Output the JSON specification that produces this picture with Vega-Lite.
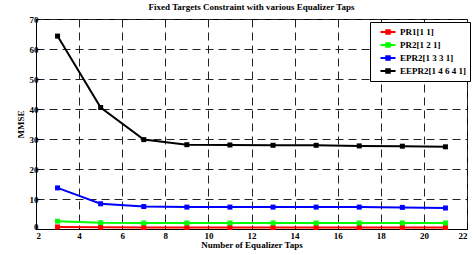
{
  "$schema": "https://vega.github.io/schema/vega-lite/v6.json",
  "width": 431,
  "height": 210,
  "autosize": {"type": "none"},
  "padding": {"left": 36, "top": 19, "right": 6, "bottom": 26},
  "title": {"text": "Fixed Targets Constraint with various Equalizer Taps", "font": "Liberation Serif", "fontSize": 9, "fontWeight": "bold", "color": "#000", "offset": 3},
  "config": {
    "view": {"stroke": "#000", "strokeWidth": 1},
    "axis": {"labelFont": "Liberation Serif", "titleFont": "Liberation Serif", "labelFontWeight": "bold", "titleFontWeight": "bold", "labelFontSize": 9, "titleFontSize": 9, "labelColor": "#000", "titleColor": "#000", "domainColor": "#000", "tickColor": "#000", "tickSize": -4, "gridColor": "#222", "gridDash": [8, 5], "gridOpacity": 1, "gridWidth": 1},
    "legend": {"labelFont": "Liberation Serif", "labelFontWeight": "bold", "labelFontSize": 9, "labelColor": "#000"}
  },
  "data": {"values": [
    {"taps": 3, "s": "PR1[1 1]", "v": 0.7}, {"taps": 5, "s": "PR1[1 1]", "v": 0.6}, {"taps": 7, "s": "PR1[1 1]", "v": 0.5}, {"taps": 9, "s": "PR1[1 1]", "v": 0.5}, {"taps": 11, "s": "PR1[1 1]", "v": 0.5}, {"taps": 13, "s": "PR1[1 1]", "v": 0.5}, {"taps": 15, "s": "PR1[1 1]", "v": 0.5}, {"taps": 17, "s": "PR1[1 1]", "v": 0.5}, {"taps": 19, "s": "PR1[1 1]", "v": 0.5}, {"taps": 21, "s": "PR1[1 1]", "v": 0.5},
    {"taps": 3, "s": "PR2[1 2 1]", "v": 2.6}, {"taps": 5, "s": "PR2[1 2 1]", "v": 2.1}, {"taps": 7, "s": "PR2[1 2 1]", "v": 2.0}, {"taps": 9, "s": "PR2[1 2 1]", "v": 2.0}, {"taps": 11, "s": "PR2[1 2 1]", "v": 2.0}, {"taps": 13, "s": "PR2[1 2 1]", "v": 2.0}, {"taps": 15, "s": "PR2[1 2 1]", "v": 2.0}, {"taps": 17, "s": "PR2[1 2 1]", "v": 2.0}, {"taps": 19, "s": "PR2[1 2 1]", "v": 2.0}, {"taps": 21, "s": "PR2[1 2 1]", "v": 2.0},
    {"taps": 3, "s": "EPR2[1 3 3 1]", "v": 13.7}, {"taps": 5, "s": "EPR2[1 3 3 1]", "v": 8.4}, {"taps": 7, "s": "EPR2[1 3 3 1]", "v": 7.5}, {"taps": 9, "s": "EPR2[1 3 3 1]", "v": 7.3}, {"taps": 11, "s": "EPR2[1 3 3 1]", "v": 7.3}, {"taps": 13, "s": "EPR2[1 3 3 1]", "v": 7.3}, {"taps": 15, "s": "EPR2[1 3 3 1]", "v": 7.3}, {"taps": 17, "s": "EPR2[1 3 3 1]", "v": 7.3}, {"taps": 19, "s": "EPR2[1 3 3 1]", "v": 7.2}, {"taps": 21, "s": "EPR2[1 3 3 1]", "v": 7.0},
    {"taps": 3, "s": "EEPR2[1 4 6 4 1]", "v": 64.3}, {"taps": 5, "s": "EEPR2[1 4 6 4 1]", "v": 40.5}, {"taps": 7, "s": "EEPR2[1 4 6 4 1]", "v": 29.8}, {"taps": 9, "s": "EEPR2[1 4 6 4 1]", "v": 28.1}, {"taps": 11, "s": "EEPR2[1 4 6 4 1]", "v": 28.0}, {"taps": 13, "s": "EEPR2[1 4 6 4 1]", "v": 27.9}, {"taps": 15, "s": "EEPR2[1 4 6 4 1]", "v": 27.9}, {"taps": 17, "s": "EEPR2[1 4 6 4 1]", "v": 27.7}, {"taps": 19, "s": "EEPR2[1 4 6 4 1]", "v": 27.6}, {"taps": 21, "s": "EEPR2[1 4 6 4 1]", "v": 27.4}
  ]},
  "mark": {"type": "line", "strokeWidth": 2, "point": {"shape": "square", "size": 25, "filled": true}},
  "encoding": {
    "x": {"field": "taps", "type": "quantitative", "scale": {"domain": [2, 22], "nice": false}, "axis": {"values": [2,4,6,8,10,12,14,16,18,20,22], "title": "Number of Equalizer Taps", "titlePadding": 0, "labelPadding": 6}},
    "y": {"field": "v", "type": "quantitative", "scale": {"domain": [0, 70], "nice": false}, "axis": {"values": [0,10,20,30,40,50,60,70], "title": "MMSE", "titlePadding": 4, "labelPadding": 2, "labelBaseline": {"condition": {"test": "datum.value === 0", "value": "alphabetic"}, "value": "middle"}}},
    "color": {"field": "s", "type": "nominal", "sort": ["PR1[1 1]", "PR2[1 2 1]", "EPR2[1 3 3 1]", "EEPR2[1 4 6 4 1]"],
      "scale": {"domain": ["PR1[1 1]", "PR2[1 2 1]", "EPR2[1 3 3 1]", "EEPR2[1 4 6 4 1]"], "range": ["#ff0000", "#00ff00", "#0000ff", "#000000"]},
      "legend": {"title": null, "orient": "none", "legendX": 334, "legendY": 3, "strokeColor": "#000", "fillColor": "#fff", "padding": 4, "rowPadding": 1, "symbolType": "M-1.5,0H1.5M-0.35,-0.35H0.35V0.35H-0.35Z", "symbolSize": 100, "symbolStrokeWidth": 2, "labelOffset": 6, "symbolOffset": 8}}
  }
}
